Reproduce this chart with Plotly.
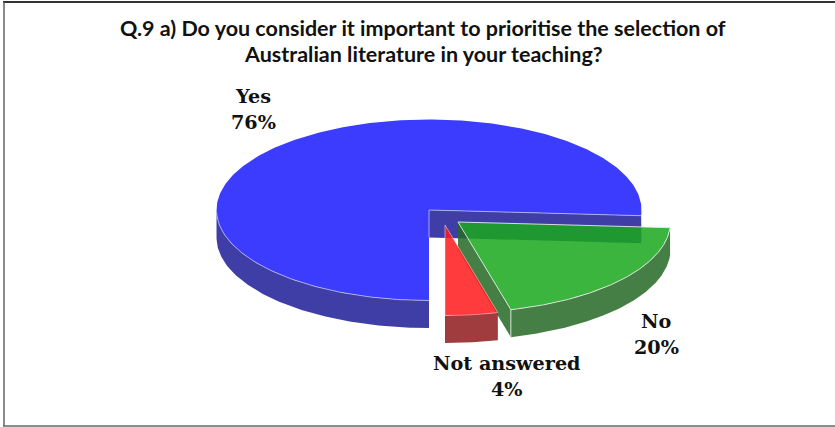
import numpy as np
import plotly.graph_objects as go

# Survey responses, in percent
categories = ["Yes", "No", "Not answered"]
values = [76, 20, 4]

# Pie projection, in page pixels
CX, CY = 429.0, 210.0
RX, RY = 212.5, 90.5
DEPTH = 27.5
START_DEG = 180.0  # clockwise from twelve o'clock
OFFSETS = {"Yes": (0.0, 0.0), "No": (29.0, 12.0), "Not answered": (16.0, 15.0)}

# The No and Not answered slices are see-through, so their base colours are deeper
TOP = {"Yes": "#3c3cff", "No": "#1aa81d", "Not answered": "#ff191c"}
SIDE = {"Yes": "#3e3ea6", "No": "#266926", "Not answered": "#8f191c"}
OPACITY = {"Yes": 1.0, "No": 0.85, "Not answered": 0.85}
EDGE = {"Yes": "rgba(190,190,235,0.8)", "No": "rgba(225,235,225,0.9)",
        "Not answered": "rgba(255,215,215,0.55)"}


def poly(fig, xs, ys, fill, opacity=1.0):
    fig.add_trace(go.Scatter(
        x=xs, y=ys, mode="lines", fill="toself", fillcolor=fill, opacity=opacity,
        line=dict(color=fill, width=0), hoverinfo="skip", showlegend=False,
    ))


def stroke(fig, xs, ys, color):
    fig.add_trace(go.Scatter(
        x=xs, y=ys, mode="lines", line=dict(color=color, width=1),
        hoverinfo="skip", showlegend=False,
    ))


def facing_runs(mask):
    """Index ranges of consecutive True values."""
    idx = np.flatnonzero(mask)
    return np.split(idx, np.flatnonzero(np.diff(idx) > 1) + 1)


fig = go.Figure()

# Angular extents of each slice from the percentages
edges = START_DEG + np.cumsum([0] + values) * 3.6
spans = {c: (edges[i], edges[i + 1]) for i, c in enumerate(categories)}

for cat in categories:
    a0, a1 = spans[cat]
    dx, dy = OFFSETS[cat]
    ox, oy = CX + dx, CY + dy
    t = np.radians(np.linspace(a0, a1, 320))
    px, py = ox + RX * np.sin(t), oy - RY * np.cos(t)

    # Outer wall: only the parts of the rim facing the viewer
    runs = facing_runs(np.cos(t) <= 0)
    for run in runs:
        wx, wy = px[run], py[run]
        poly(fig, np.r_[wx, wx[::-1], wx[0]], np.r_[wy, wy[::-1] + DEPTH, wy[0]],
             SIDE[cat], OPACITY[cat])

    # Cut face along the slice's closing radius, exposed by the explosion
    if cat in ("Yes", "No"):
        poly(fig, [ox, px[-1], px[-1], ox, ox],
             [oy, py[-1], py[-1] + DEPTH, oy + DEPTH, oy], SIDE[cat], OPACITY[cat])

    # Top surface
    poly(fig, np.r_[ox, px, ox], np.r_[oy, py, oy], TOP[cat], OPACITY[cat])

    # Light highlights along the top edges
    if cat == "Yes":
        stroke(fig, [px[-1], ox, ox], [py[-1], oy, oy + DEPTH], EDGE[cat])
        stroke(fig, px[runs[0]], py[runs[0]], EDGE[cat])
    else:
        stroke(fig, np.r_[ox, px, ox], np.r_[oy, py, oy], EDGE[cat])
    if cat == "No":
        stroke(fig, [px[-1], px[-1]], [py[-1], py[-1] + DEPTH], EDGE[cat])

# Slice labels, one annotation per line so the leading can be set freely
LABEL_FONT = dict(family="DejaVu Serif, serif", size=19.2, color="#111111")
label_pos = {"Yes": (253, 96), "No": (656, 321), "Not answered": (507, 363)}
LEADING = 26
for cat, val in zip(categories, values):
    x, y = label_pos[cat]
    for i, line in enumerate((cat, f"{val}%")):
        fig.add_annotation(
            x=x, y=y + i * LEADING, text=f"<b>{line}</b>", showarrow=False,
            font=LABEL_FONT, xanchor="center", yanchor="middle",
        )

title_lines = [
    "Q.9 a) Do you consider it important to prioritise the selection of",
    "Australian literature in your teaching?",
]
for i, line in enumerate(title_lines):
    fig.add_annotation(
        x=423, y=28 + i * 26, text=f"<b>{line}</b>", showarrow=False,
        xanchor="center", yanchor="middle",
        font=dict(family="Lato, Open Sans, sans-serif", size=21.5, color="#111111"),
    )

# Page frame: open on the right-hand side
fig.add_shape(type="line", x0=3, y0=2, x1=835, y1=2, line=dict(color="#333333", width=2))
fig.add_shape(type="line", x0=4, y0=2, x1=4, y1=426, line=dict(color="#666666", width=1.5))
fig.add_shape(type="line", x0=3, y0=426, x1=835, y1=426, line=dict(color="#666666", width=1.5))

fig.update_layout(
    width=835, height=427, margin=dict(l=0, r=0, t=0, b=0),
    paper_bgcolor="white", plot_bgcolor="white", showlegend=False,
    xaxis=dict(range=[0, 835], visible=False, fixedrange=True),
    yaxis=dict(range=[427, 0], visible=False, fixedrange=True),
)
fig.write_html("out.html", config={"displayModeBar": False})
